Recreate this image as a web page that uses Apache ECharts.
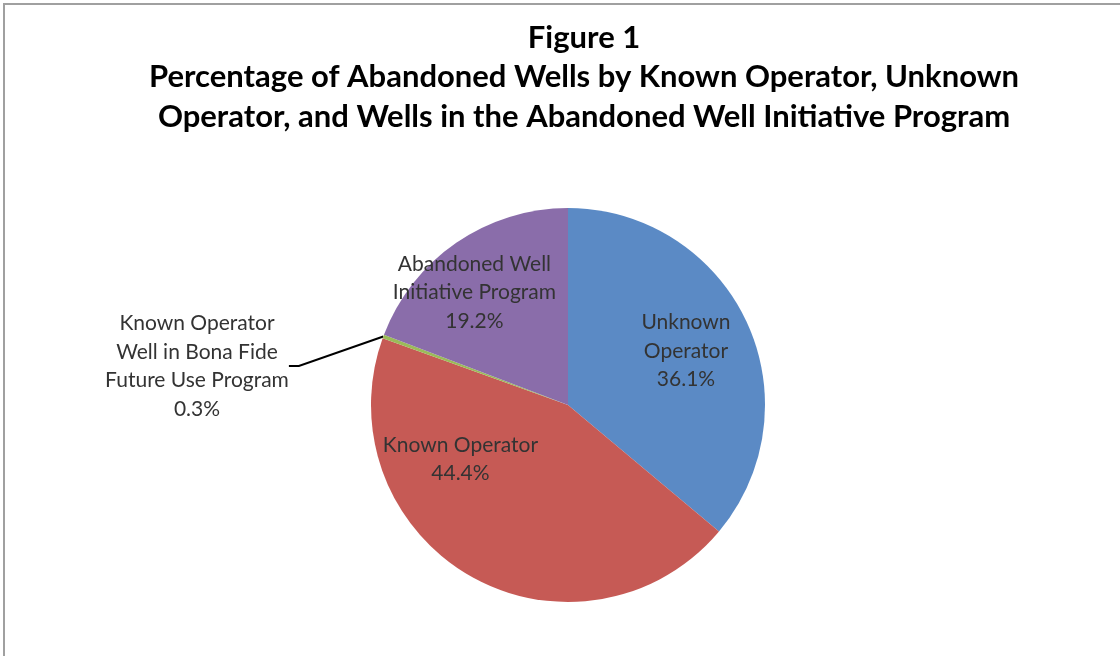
<!DOCTYPE html>
<html>
<head>
<meta charset="utf-8">
<script src="https://cdn.jsdelivr.net/npm/echarts@6/dist/echarts.min.js"></script>
<style>
  html, body { margin: 0; padding: 0; background: #fff; }
  #frame { position: absolute; left: 0; top: 0; width: 1120px; height: 656px; overflow: hidden; }
  #frame:before { content: ''; position: absolute; left: 3px; top: 3px; right: 0; height: 2px; background: #a0a0a0; }
  #frame:after { content: ''; position: absolute; left: 3px; top: 3px; bottom: 0; width: 2px; background: #a0a0a0; }
  #chart { position: absolute; left: 0; top: 0; width: 1120px; height: 656px; }
</style>
</head>
<body>
<div id="frame"><div id="chart"></div></div>
<script>
// 数据
var categories = [
  'Unknown\nOperator',
  'Known Operator',
  'Known Operator\nWell in Bona Fide\nFuture Use Program',
  'Abandoned Well\nInitiative Program'
];
var values = [36.1, 44.4, 0.3, 19.2];
var colors = ['#5b8ac5', '#c65a55', '#9bbb59', '#8a6daa'];

var titleText = 'Figure 1\nPercentage of Abandoned Wells by Known Operator, Unknown\nOperator, and Wells in the Abandoned Well Initiative Program';

// label nudges (dx, dy) relative to default spot
var labelShift = [[26, -11], [-57, -34], [0, 0], [-36, -29]];

var myChart = echarts.init(document.getElementById('chart'));

var pieData = categories.map(function (name, i) {
  var item = {
    name: name,
    value: values[i],
    itemStyle: { color: colors[i] }
  };
  if (i === 2) {
    item.label = { position: 'outside' };
    item.labelLine = { show: true };
  }
  return item;
});

myChart.setOption({
  animation: false,
  title: {
    text: titleText,
    left: 579,
    top: 13,
    textAlign: 'center',
    textStyle: {
      fontFamily: 'Lato',
      fontWeight: 'bold',
      fontSize: 31,
      lineHeight: 39.5,
      color: '#000'
    }
  },
  series: [{
    type: 'pie',
    center: [568, 405],
    radius: 197,
    startAngle: 90,
    clockwise: true,
    avoidLabelOverlap: false,
    data: pieData,
    itemStyle: { borderWidth: 0 },
    label: {
      show: true,
      position: 'inside',
      formatter: function (p) { return p.name + '\n' + p.value.toFixed(1) + '%'; },
      fontFamily: 'Lato',
      fontSize: 21,
      lineHeight: 28.5,
      color: '#333',
      align: 'center'
    },
    labelLine: {
      show: false,
      length: 10,
      length2: 10,
      lineStyle: { color: '#000', width: 2 }
    },
    labelLayout: function (p) {
      if (p.dataIndex === 2) {
        return { x: 197, y: 366, align: 'center', verticalAlign: 'middle' };
      }
      var s = labelShift[p.dataIndex];
      return { dx: s[0], dy: s[1] };
    }
  }]
});
</script>
</body>
</html>
